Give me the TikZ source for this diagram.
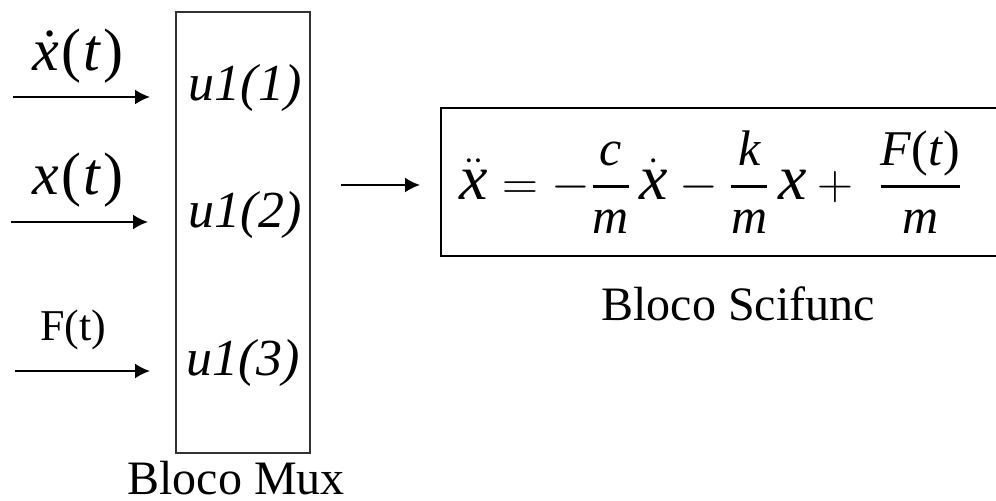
\documentclass[tikz,border=0pt]{standalone}
\usepackage{amsmath}
\usepackage{fontspec}
\setmainfont{Liberation Serif}
\newfontfamily\tnr{Liberation Serif}
\usetikzlibrary{arrows.meta}

\newcommand{\mv}[1]{\mathit{#1}}
\newcommand{\fpart}[1]{\text{\fontsize{25}{25}\selectfont\itshape #1}}
\newcommand{\fr}[2]{\genfrac{}{}{1.3pt}{0}{\fpart{#1}}{\fpart{#2}}}

\tikzset{
  sig/.style={inner sep=0pt, font=\tnr\fontsize{30}{32}\selectfont},
  port/.style={inner sep=0pt, font=\tnr\fontsize{26}{28}\selectfont\itshape},
  caption/.style={inner sep=0pt, anchor=base, font=\tnr\fontsize{24}{26}\selectfont},
  flow/.style={line width=1pt, -{Latex[length=7.5pt,width=7.5pt]}}
}

\begin{document}
\begin{tikzpicture}[x=0.5pt,y=-0.5pt]
        \useasboundingbox (0,0) rectangle (996,501);
        % mux block
        \draw[line width=1.2pt, black!80] (176,12) rectangle (310,453);
        \node[port] (p1) at (245,88) {u1(1)};
        \node[port] (p2) at (245,215) {u1(2)};
        \node[port] (p3) at (243,363) {u1(3)};
        \node[caption] (muxlbl) at (236,495) {Bloco Mux};
        % inputs
        \coordinate (s1) at (13,97);   \coordinate (e1) at (150,97);
        \coordinate (s2) at (11,222);  \coordinate (e2) at (148,222);
        \coordinate (s3) at (15,371);  \coordinate (e3) at (150,371);
        \draw[flow] (s1) -- (e1);
        \draw[flow] (s2) -- (e2);
        \draw[flow] (s3) -- (e3);
        \node[sig] (xd) at (78,56) {\textit{\.x}\kern1pt(\kern1pt\textit{t}\kern1pt)};
        \node[sig] (xx) at (78,180) {\textit{x}\kern1pt(\kern1pt\textit{t}\kern1pt)};
        \node[inner sep=0pt, font=\tnr\fontsize{22}{24}\selectfont] (ff) at (73,330) {F(t)};
        % scifunc block
        \draw[line width=1.2pt] (996,108) -- (441,108) -- (441,256) -- (996,256);
        \node[inner sep=0pt, font=\tnr\fontsize{32}{34}\selectfont] (eq) at (711,182)
          {$\ddot{\mv{x}} = -\fr{c}{m}\,\dot{\mv{x}} - \fr{k}{m}\,\mv{x} + \;\fr{F\textup{(}t\textup{)}}{m}$};
        \node[caption] (scilbl) at (738,321) {Bloco Scifunc};
        \coordinate (s4) at (341,185); \coordinate (e4) at (420,185);
        \draw[flow] (s4) -- (e4);
\end{tikzpicture}
\end{document}
